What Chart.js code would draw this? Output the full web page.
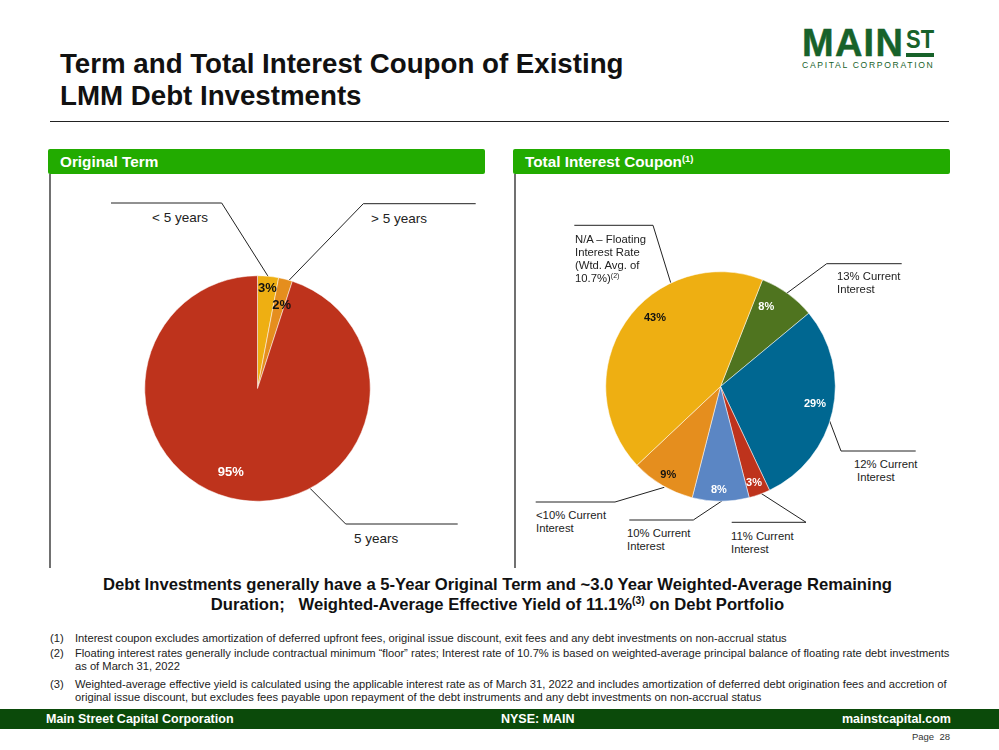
<!DOCTYPE html>
<html>
<head>
<meta charset="utf-8">
<title>Term and Total Interest Coupon</title>
<script src="https://cdn.jsdelivr.net/npm/chart.js@4"></script>
<style>
    html, body { margin: 0; padding: 0; background: #fff; }
    body { width: 999px; height: 750px; position: relative; overflow: hidden;
        font-family: "Liberation Sans", Arial, sans-serif; color: #111; }
    .t { position: absolute; white-space: nowrap; }
    .small { font-size: 11.3px; line-height: 13px; color: #222; }
    .name { font-size: 13.5px; line-height: 16px; color: #222; }
    .note { font-size: 11.18px; line-height: 13px; color: #222; }
    sup { font-size: 62%; line-height: 0; vertical-align: baseline; position: relative; top: -0.55em; }
    h1 { position: absolute; left: 60px; top: 48px; margin: 0; font-size: 27.7px; line-height: 32px; font-weight: bold; color: #111; }
    .band { position: absolute; top: 149px; height: 25px; width: 437px; background: #22ab00; border-radius: 2px;
        color: #fff; font-weight: bold; font-size: 15.3px; line-height: 25px; text-indent: 12px; }
    .foot { position: absolute; left: 0; top: 709px; width: 999px; height: 20px; background: #0b4a0a; }
    .foot .t { color: #fff; font-weight: bold; font-size: 12.5px; line-height: 20px; top: 0; }
    .logo { color: #17622a; font-weight: bold; }
    canvas { position: absolute; }
    svg { position: absolute; left: 0; top: 0; }
    polyline { fill: none; stroke: #222; stroke-width: 1; }
</style>
</head>
<body>

<h1>Term and Total Interest Coupon of Existing<br>LMM Debt Investments</h1>

<!-- logo -->
<div class="t logo" style="left:802px;top:29px;font-size:38px;line-height:28px;letter-spacing:1.25px;-webkit-text-stroke:0.5px #17622a">MAIN</div>
<div class="t logo" style="left:906px;top:29px;font-size:25.5px;line-height:20px;transform:scaleX(0.86);transform-origin:left">ST</div>
<div style="position:absolute;left:906px;top:53px;width:28px;height:4px;background:#17622a"></div>
<div class="t logo" style="left:802px;top:60.5px;font-size:8.6px;line-height:9px;font-weight:normal;letter-spacing:1.68px">CAPITAL CORPORATION</div>

<div class="band" style="left:48px">Original Term</div>
<div class="band" style="left:513px">Total Interest Coupon<sup>(1)</sup></div>

<svg width="999" height="750">
    <line x1="50" y1="121.5" x2="949" y2="121.5" stroke="#222" stroke-width="1"/>
    <line x1="50" y1="174" x2="50" y2="568" stroke="#111" stroke-width="1.2"/>
    <line x1="515" y1="174" x2="515" y2="568" stroke="#111" stroke-width="1.2"/>
    <polyline points="111,203 221.7,203 268.3,276.7"/>
    <polyline points="475.7,203.7 363.3,203.7 289.3,280"/>
    <polyline points="310,488.3 345.7,524 457.7,524"/>
    <polyline points="574.3,225.3 653,225.3 670.7,282.7"/>
    <polyline points="786.7,293.3 826.7,263.7 901.7,263.7"/>
    <polyline points="829,419.3 841,451 915.7,451"/>
    <polyline points="760,492.7 806,522.3 731.7,522.3"/>
    <polyline points="722.3,500.7 693.3,520 629.3,520"/>
    <polyline points="664.3,487.3 615,502 535.7,502"/>
</svg>

<canvas id="termChart" width="227" height="227" style="left:144px;top:275px;width:227px;height:227px"></canvas>
<canvas id="couponChart" width="231" height="231" style="left:604.5px;top:270.5px;width:231px;height:231px"></canvas>

<div class="t name" style="left:152px;top:210px">&lt; 5 years</div>
<div class="t name" style="left:371px;top:211px">&gt; 5 years</div>
<div class="t name" style="left:354px;top:531px">5 years</div>

<div class="t small" style="left:575px;top:233px">N/A – Floating<br>Interest Rate<br>(Wtd. Avg. of<br>10.7%)<sup>(2)</sup></div>
<div class="t small" style="left:837px;top:270px">13% Current<br>Interest</div>
<div class="t small" style="left:854px;top:458px">12% Current<br><span style="margin-left:3px">Interest</span></div>
<div class="t small" style="left:731px;top:530px">11% Current<br>Interest</div>
<div class="t small" style="left:627px;top:527px">10% Current<br>Interest</div>
<div class="t small" style="left:536px;top:509px">&lt;10% Current<br>Interest</div>

<div class="t" style="left:0;width:995px;top:575px;text-align:center;font-size:16.64px;line-height:20px;font-weight:bold;color:#111">Debt Investments generally have a 5-Year Original Term and ~3.0 Year Weighted-Average Remaining<br>Duration;&nbsp;&nbsp; Weighted-Average Effective Yield of 11.1%<sup>(3)</sup> on Debt Portfolio</div>

<div class="t note" style="left:50px;top:632px">(1)</div>
<div class="t note" style="left:75px;top:632px">Interest coupon excludes amortization of deferred upfront fees, original issue discount, exit fees and any debt investments on non-accrual status</div>
<div class="t note" style="left:50px;top:647px">(2)</div>
<div class="t note" style="left:75px;top:647px">Floating interest rates generally include contractual minimum “floor” rates; Interest rate of 10.7% is based on weighted-average principal balance of floating rate debt investments<br>as of March 31, 2022</div>
<div class="t note" style="left:50px;top:678px">(3)</div>
<div class="t note" style="left:75px;top:678px">Weighted-average effective yield is calculated using the applicable interest rate as of March 31, 2022 and includes amortization of deferred debt origination fees and accretion of<br>original issue discount, but excludes fees payable upon repayment of the debt instruments and any debt investments on non-accrual status</div>

<div class="foot">
    <div class="t" style="left:46px">Main Street Capital Corporation</div>
    <div class="t" style="left:501px">NYSE: MAIN</div>
    <div class="t" style="right:48px">mainstcapital.com</div>
</div>
<div class="t" style="right:49px;top:731px;font-size:9.5px;line-height:12px;color:#333">Page&nbsp; 28</div>

<script>
    var termLabels = ['< 5 years', '> 5 years', '5 years'];
    var termValues = [3, 2, 95];

    var couponLabels = ['13% Current Interest', '12% Current Interest', '11% Current Interest',
        '10% Current Interest', '<10% Current Interest', 'N/A - Floating Interest Rate'];
    var couponValues = [8, 29, 3, 8, 9, 43];

    var yellow = '#eeaf12', orange = '#e58e1e', red = '#be331c';

    // value labels sit where the slide put them: [degrees from top, fraction of radius]
    var pctLabels = {
        id: 'pctLabels',
        afterDatasetsDraw: function (chart, args, opts) {
            var ctx = chart.ctx;
            var values = chart.data.datasets[0].data;
            var arc0 = chart.getDatasetMeta(0).data[0];
            ctx.save();
            ctx.font = 'bold ' + opts.size + 'px "Liberation Sans", Arial, sans-serif';
            ctx.textAlign = 'center';
            ctx.textBaseline = 'middle';
            values.forEach(function (v, i) {
                var a = opts.spots[i][0] * Math.PI / 180;
                var r = opts.spots[i][1] * arc0.outerRadius;
                ctx.fillStyle = opts.colors[i];
                ctx.fillText(v + '%', arc0.x + r * Math.sin(a), arc0.y - r * Math.cos(a));
            });
            ctx.restore();
        }
    };

    function pie(id, labels, values, colors, rotation, label) {
        return new Chart(document.getElementById(id).getContext('2d'), {
            type: 'pie',
            data: {
                labels: labels,
                datasets: [{ data: values, backgroundColor: colors, borderColor: '#ffffff', borderWidth: 0.5 }]
            },
            options: {
                responsive: false,
                animation: false,
                rotation: rotation,
                layout: { padding: 0.5 },
                plugins: { legend: { display: false }, tooltip: { enabled: false }, pctLabels: label }
            },
            plugins: [pctLabels]
        });
    }

    pie('termChart', termLabels, termValues, [yellow, orange, red], 0, {
        size: 13,
        colors: ['#111', '#111', '#fff'],
        spots: [[5.7, 0.893], [16.3, 0.764], [197.8, 0.778]]
    });

    pie('couponChart', couponLabels, couponValues, ['#4f741f', '#006791', red, '#5b86c4', orange, yellow], 21.5, {
        size: 11,
        colors: ['#fff', '#fff', '#fff', '#fff', '#111', '#111'],
        spots: [[29.8, 0.803], [100.6, 0.837], [160.9, 0.892], [180.9, 0.898], [210.5, 0.897], [316.4, 0.829]]
    });
</script>
</body>
</html>
